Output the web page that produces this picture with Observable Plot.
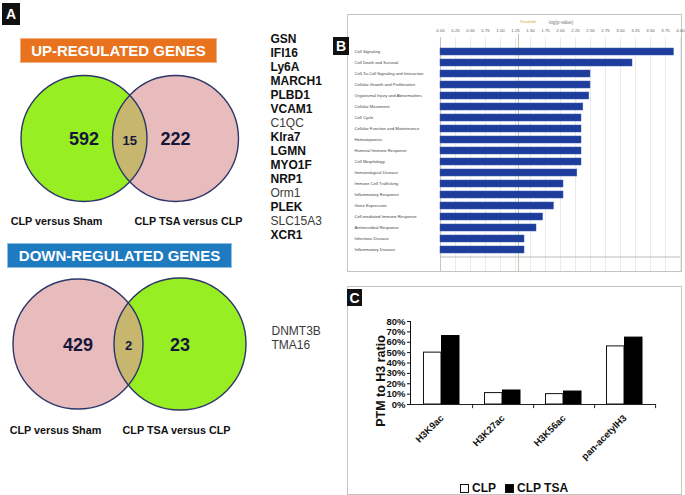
<!DOCTYPE html>
<html><head><meta charset="utf-8">
<script src="https://cdn.jsdelivr.net/npm/d3@7"></script>
<script src="https://cdn.jsdelivr.net/npm/@observablehq/plot@0.6"></script>
<style>
body{margin:0;background:#fff;font-family:"Liberation Sans",Arial,sans-serif;}
#fig{position:relative;width:685px;height:495px;overflow:hidden;background:#fff}
.tag{position:absolute;background:#111;color:#fff;font:bold 14px "Liberation Sans",Arial,sans-serif;display:flex;align-items:center;justify-content:center}
.hdr{position:absolute;color:#fff;font:bold 15px "Liberation Sans",Arial,sans-serif;display:flex;align-items:center;justify-content:center;box-sizing:border-box}
.box{position:absolute;border:1px solid #c4c4c4;box-sizing:border-box}
.leg{position:absolute;font:bold 12px "Liberation Sans",Arial,sans-serif;display:flex;align-items:center;gap:3px;color:#111}
.sw{display:inline-block;width:9px;height:9px;border:1px solid #111;box-sizing:border-box}
</style></head><body><div id="fig"></div>
<script>
// ---------------- data ----------------
const vennSets = ["CLP versus Sham", "CLP TSA versus CLP"];
const upCounts = [592, 15, 222];     // left only, shared, right only
const downCounts = [429, 2, 23];
const upGenes = ["GSN","IFI16","Ly6A","MARCH1","PLBD1","VCAM1","C1QC","Klra7","LGMN","MYO1F","NRP1","Orm1","PLEK","SLC15A3","XCR1"];
const upGenesBold = [true,true,true,true,true,true,false,true,true,true,true,false,true,false,true];
const downGenes = ["DNMT3B","TMA16"];
const pathways = ["Cell Signaling","Cell Death and Survival","Cell-To-Cell Signaling and Interaction","Cellular Growth and Proliferation","Organismal Injury and Abnormalities","Cellular Movement","Cell Cycle","Cellular Function and Maintenance","Hematopoiesis","Humoral Immune Response","Cell Morphology","Immunological Disease","Immune Cell Trafficking","Inflammatory Response","Gene Expression","Cell-mediated Immune Response","Antimicrobial Response","Infectious Disease","Inflammatory Disease"];
const pathwayScores = [3.89,3.20,2.50,2.50,2.48,2.38,2.35,2.35,2.35,2.35,2.35,2.28,2.05,2.05,1.89,1.71,1.60,1.40,1.40];
const thresholdScore = 1.30;
const scoreTicks = [0,0.25,0.5,0.75,1,1.25,1.5,1.75,2,2.25,2.5,2.75,3,3.25,3.5,3.75,4];
const ptmMarks = ["H3K9ac","H3K27ac","H3K56ac","pan-acetylH3"];
const ptmGroups = ["CLP","CLP TSA"];
const ptmCLP = [0.50,0.11,0.10,0.56];
const ptmCLPTSA = [0.66,0.135,0.125,0.645];
const ptmTicks = [0,0.1,0.2,0.3,0.4,0.5,0.6,0.7,0.8];

// ---------------- helpers ----------------
const fig = document.getElementById("fig");
function place(el, x, y){ el.style.position="absolute"; el.style.left=x+"px"; el.style.top=y+"px"; fig.appendChild(el); return el; }
function div(cls, x, y, w, h, txt, style){ const d=document.createElement("div"); d.className=cls; d.style.left=x+"px"; d.style.top=y+"px"; if(w!=null) d.style.width=w+"px"; if(h!=null) d.style.height=h+"px"; if(txt!=null) d.textContent=txt; if(style) Object.assign(d.style, style); fig.appendChild(d); return d; }
const FONT = "Liberation Sans, Arial, sans-serif";

// ---------------- Panel A: Venn diagrams ----------------
const GREEN="#97ee22", PINK="#e8bcbc", LENS="#c6b66e", EDGE="#2c3768", NUM="#16163a";
const vennLayout = [
  {c:[{x:83.5,y:138,r:63},{x:175,y:138,r:63}], fills:[GREEN,PINK], counts:upCounts, labelY:221, labelX:[56,188]},
  {c:[{x:77.5,y:343.5,r:65},{x:179.5,y:343.5,r:66}], fills:[PINK,GREEN], counts:downCounts, labelY:430, labelX:[55,176]}
];
function lens(c1, c2){
  const d = c2.x - c1.x, a = (d*d + c1.r*c1.r - c2.r*c2.r)/(2*d), h = Math.sqrt(c1.r*c1.r - a*a);
  const t1 = Math.atan2(h, a), t2 = Math.atan2(h, d - a), pts = [];
  for (let i=0;i<=40;i++){ const t=-t1+2*t1*i/40; pts.push({x:c1.x+c1.r*Math.cos(t), y:c1.y+c1.r*Math.sin(t)}); }
  for (let i=0;i<=40;i++){ const t=Math.PI-t2+2*t2*i/40; pts.push({x:c2.x+c2.r*Math.cos(t), y:c2.y+c2.r*Math.sin(t)}); }
  return pts;
}
const vennMarks = [];
for (const v of vennLayout){
  const [c1,c2] = v.c, L = lens(c1,c2);
  vennMarks.push(Plot.dot([c1], {x:"x", y:"y", r:"r", fill:v.fills[0], stroke:"none"}));
  vennMarks.push(Plot.dot([c2], {x:"x", y:"y", r:"r", fill:v.fills[1], stroke:"none"}));
  vennMarks.push(Plot.line(L, {x:"x", y:"y", curve:"linear-closed", fill:LENS, stroke:"none"}));
  vennMarks.push(Plot.dot(v.c, {x:"x", y:"y", r:"r", fill:"none", stroke:EDGE, strokeWidth:1.4}));
  const lx = (d3.min(L, p=>p.x) + d3.max(L, p=>p.x))/2;
  const numPos = [{x:c1.x, y:c1.y+1, t:v.counts[0], s:18},{x:lx, y:c1.y+2, t:v.counts[1], s:13},{x:c2.x, y:c2.y+1, t:v.counts[2], s:18}];
  vennMarks.push(Plot.text(numPos, {x:"x", y:"y", text:"t", fontSize:"s", fontWeight:"bold", fill:NUM}));
  vennMarks.push(Plot.text(vennSets.map((s,i)=>({t:s, x:v.labelX[i]})), {x:"x", y:()=>v.labelY, text:"t", fontSize:10.8, fontWeight:"bold", fill:"#111", textAnchor:"middle"}));
}
const venn = Plot.plot({
  width:262, height:495, margin:0,
  x:{domain:[0,262], range:[0,262], axis:null},
  y:{domain:[0,495], range:[0,495], axis:null},
  r:{type:"identity"},
  style:{fontFamily:FONT, background:"transparent"},
  marks: vennMarks
});
place(venn, 0, 0);

div("tag", 2, 3, 18, 22, "A");
div("hdr", 20, 38, 197, 25, "UP-REGULATED GENES", {background:"#e8721e", border:"1px solid #f2b080"});
div("hdr", 7, 243, 225, 25, "DOWN-REGULATED GENES", {background:"#1f7bc0", border:"1px solid #8cc0e4"});

// gene lists
const genePlot = Plot.plot({
  width:80, height:226, margin:0, marginTop:10, marginBottom:3,
  x:{axis:null, domain:[0,1]},
  y:{type:"band", domain:upGenes, axis:null, padding:0},
  style:{fontFamily:FONT, background:"transparent"},
  marks:[
    Plot.text(upGenes.filter((g,i)=>upGenesBold[i]), {x:()=>0, y:d=>d, text:d=>d, textAnchor:"start", fontSize:12, fontWeight:"bold", fill:"#111"}),
    Plot.text(upGenes.filter((g,i)=>!upGenesBold[i]), {x:()=>0, y:d=>d, text:d=>d, textAnchor:"start", fontSize:12, fill:"#3a3a3a"})
  ]
});
place(genePlot, 270, 20);
const downPlot = Plot.plot({
  width:80, height:34, margin:0, marginTop:3, marginBottom:3,
  x:{axis:null, domain:[0,1]},
  y:{type:"band", domain:downGenes, axis:null, padding:0},
  style:{fontFamily:FONT, background:"transparent"},
  marks:[ Plot.text(downGenes, {x:()=>0, y:d=>d, text:d=>d, textAnchor:"start", fontSize:12, fill:"#3a3a3a"}) ]
});
place(downPlot, 271, 321);

// ---------------- Panel B: pathway -log(p) bars ----------------
div("box", 347, 14, 335, 258);
const pw = pathways.map((p,i)=>({p, s:pathwayScores[i]}));
const B = Plot.plot({
  width:340, height:249, marginLeft:93, marginRight:7, marginTop:17, marginBottom:4,
  x:{domain:[0,4], axis:"top", ticks:scoreTicks, tickFormat:d3.format(".2f"), tickSize:0, tickPadding:6, label:null},
  y:{type:"band", domain:pathways, axis:null, padding:0.36},
  style:{fontFamily:FONT, fontSize:"4.4px", color:"#666", background:"transparent", overflow:"visible"},
  marks:[
    Plot.ruleX(scoreTicks, {stroke:"#e4e4e4", strokeWidth:0.8, insetBottom:-6}),
    Plot.ruleX([thresholdScore], {stroke:"#c8c3a6", strokeWidth:1, insetBottom:-6, insetTop:-3}),
    Plot.ruleX([0], {stroke:"#bbb", strokeWidth:0.8, insetBottom:-6}),
    Plot.barX(pw, {y:"p", x:"s", fill:"#1d3c9b", stroke:"#3d5cb0", strokeWidth:0.5}),
    Plot.text(pw, {y:"p", x:()=>0, text:"p", textAnchor:"start", dx:-86, fontSize:4.2, fill:"#444"}),
    Plot.ruleY([pathways[pathways.length-1]], {stroke:"#bbb", dy:7}),
    Plot.text(["-log(p-value)"], {frameAnchor:"top", dy:-17, fontSize:4.6, fill:"#777"}),
    Plot.text(["Threshold"], {x:()=>thresholdScore, frameAnchor:"top", dy:-17, dx:1, textAnchor:"start", fontSize:3.6, fill:"#e0a020"})
  ]
});
place(B, 347, 20);
div("tag", 333, 37, 16, 18, "B");

// ---------------- Panel C: PTM to H3 ratio ----------------
div("box", 347, 286, 335, 209);
const ptm = [];
ptmMarks.forEach((m,i)=>{ ptm.push({m, g:ptmGroups[0], v:ptmCLP[i]}); ptm.push({m, g:ptmGroups[1], v:ptmCLPTSA[i]}); });
const C = Plot.plot({
  width:330, height:203, marginLeft:60, marginRight:25, marginTop:30, marginBottom:90,
  x:{type:"band", domain:ptmMarks, padding:0, tickRotate:-45, tickSize:0, tickPadding:12, label:null},
  y:{domain:[0,0.8], ticks:ptmTicks, tickFormat:d3.format(".0%"), tickSize:3, tickPadding:2, label:null, line:true},
  style:{fontFamily:FONT, fontSize:"9.5px", fontWeight:"bold", color:"#111", background:"transparent", overflow:"visible"},
  marks:[
    Plot.barY(ptm.filter(d=>d.g===ptmGroups[0]), {x:"m", y:"v", fill:"white", stroke:"#111", strokeWidth:1, insetLeft:12.5, insetRight:31}),
    Plot.barY(ptm.filter(d=>d.g===ptmGroups[1]), {x:"m", y:"v", fill:"#000", stroke:"#000", strokeWidth:1, insetLeft:30.5, insetRight:13}),
    Plot.ruleY([0], {stroke:"#222"}),
    Plot.ruleX(ptmMarks, {x:d=>d, dx:30.6, y1:0, y2:-0.04, stroke:"#222"}),
    Plot.text(["PTM to H3 ratio"], {frameAnchor:"left", textAnchor:"middle", rotate:-90, dx:-30, dy:18, fontSize:12.5, fontWeight:"bold", fill:"#111"})
  ]
});
place(C, 350, 291);
div("tag", 347, 289, 15, 17, "C");
const leg = div("leg", 460, 481, null, 14);
ptmGroups.forEach((g,i)=>{ const s=document.createElement("span"); s.className="sw"; s.style.background = i? "#000":"#fff"; s.style.marginLeft = i? "6px":"0"; leg.appendChild(s); const t=document.createElement("span"); t.textContent=g; leg.appendChild(t); });
</script></body></html>
